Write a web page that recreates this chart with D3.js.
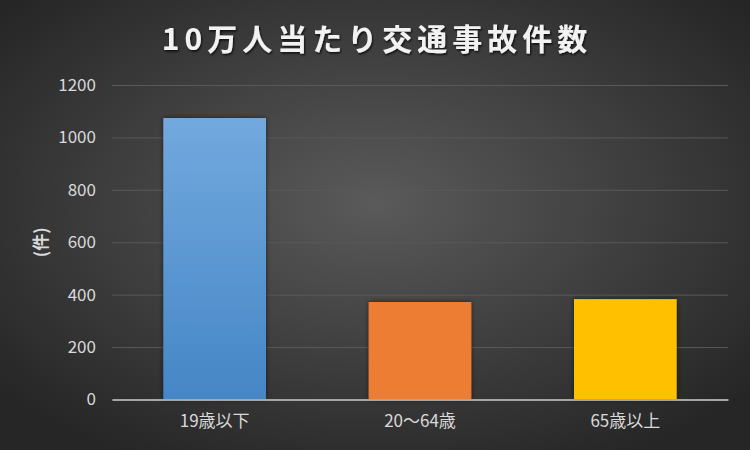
<!DOCTYPE html>
<html>
<head>
<meta charset="utf-8">
<script src="https://cdn.jsdelivr.net/npm/d3@7"></script>
<style>
  html, body { margin: 0; padding: 0; background: #262626; }
  svg text { font-family: "Noto Sans CJK JP", "Noto Sans", sans-serif; }
</style>
</head>
<body>
<div id="chart"></div>
<script>
// data
const categories = ["19歳以下", "20～64歳", "65歳以上"];
const accidents = [1074, 372, 383];
const yTicks = [0, 200, 400, 600, 800, 1000, 1200];

const WIDTH = 750, HEIGHT = 450;
const margin = {top: 85, right: 22, bottom: 50.5, left: 112};
const width = WIDTH - margin.left - margin.right,
      height = HEIGHT - margin.top - margin.bottom;

const svg = d3.select("#chart")
  .append("svg")
  .attr("width", WIDTH)
  .attr("height", HEIGHT);

const defs = svg.append("defs");

// background: lighter in the middle, dark at the corners
const bg = defs.append("radialGradient")
  .attr("id", "bg")
  .attr("cx", "50%").attr("cy", "45%").attr("r", "65%");
bg.append("stop").attr("offset", "0%").attr("stop-color", "#5a5a5a");
bg.append("stop").attr("offset", "100%").attr("stop-color", "#262626");

const blue = defs.append("linearGradient")
  .attr("id", "blueGrad")
  .attr("x1", 0).attr("y1", 0).attr("x2", 0).attr("y2", 1);
blue.append("stop").attr("offset", "0%").attr("stop-color", "#72a9de");
blue.append("stop").attr("offset", "100%").attr("stop-color", "#4586c6");

const shadow = defs.append("filter")
  .attr("id", "shadow")
  .attr("x", "-20%").attr("y", "-20%").attr("width", "140%").attr("height", "140%");
shadow.append("feDropShadow")
  .attr("dx", 0).attr("dy", 0).attr("stdDeviation", 2.5)
  .attr("flood-color", "#000").attr("flood-opacity", 0.55);

const titleShadow = defs.append("filter").attr("id", "titleShadow");
titleShadow.append("feDropShadow")
  .attr("dx", 1).attr("dy", 1.5).attr("stdDeviation", 1.2)
  .attr("flood-color", "#000").attr("flood-opacity", 0.8);

svg.append("rect")
  .attr("width", WIDTH).attr("height", HEIGHT)
  .attr("fill", "url(#bg)");

// title
svg.append("text")
  .attr("x", WIDTH / 2 + 2)
  .attr("y", 50)
  .attr("text-anchor", "middle")
  .attr("fill", "#f2f2f2")
  .attr("font-size", "30px")
  .attr("font-weight", "bold")
  .attr("letter-spacing", "5px")
  .attr("filter", "url(#titleShadow)")
  .text("10万人当たり交通事故件数");

const g = svg.append("g")
  .attr("transform", `translate(${margin.left}, ${margin.top})`);

const x = d3.scaleBand()
  .domain(categories)
  .range([0, width])
  .paddingInner(0.5)
  .paddingOuter(0.25);

const y = d3.scaleLinear()
  .domain([0, 1200])
  .range([height, 0]);

// gridlines + y labels
const yAxis = g.append("g")
  .call(d3.axisLeft(y).tickValues(yTicks).tickFormat(d3.format("d")).tickSize(-width).tickPadding(16));
yAxis.select(".domain").remove();
yAxis.selectAll(".tick line")
  .attr("stroke", "#595959")
  .attr("stroke-width", 1);
yAxis.selectAll(".tick text")
  .attr("fill", "#d9d9d9")
  .attr("font-size", "17px");

// bars
const colors = ["url(#blueGrad)", "#ed7d31", "#ffc000"];
g.selectAll("rect.bar")
  .data(categories)
  .join("rect")
  .attr("class", "bar")
  .attr("x", d => x(d))
  .attr("y", (d, i) => y(accidents[i]))
  .attr("width", x.bandwidth())
  .attr("height", (d, i) => height - y(accidents[i]))
  .attr("fill", (d, i) => colors[i])
  .attr("filter", "url(#shadow)");

// x axis
const xAxis = g.append("g")
  .attr("transform", `translate(0, ${height})`)
  .call(d3.axisBottom(x).tickSize(0).tickPadding(15));
xAxis.select(".domain")
  .attr("stroke", "#a6a6a6")
  .attr("stroke-width", 2);
xAxis.selectAll(".tick text")
  .attr("fill", "#d9d9d9")
  .attr("font-size", "17px");

// y axis title
svg.append("text")
  .attr("transform", `translate(47, ${margin.top + height / 2}) rotate(-90)`)
  .attr("text-anchor", "middle")
  .attr("fill", "#d9d9d9")
  .attr("font-size", "17px")
  .attr("font-weight", "bold")
  .text("(件)");
</script>
</body>
</html>
